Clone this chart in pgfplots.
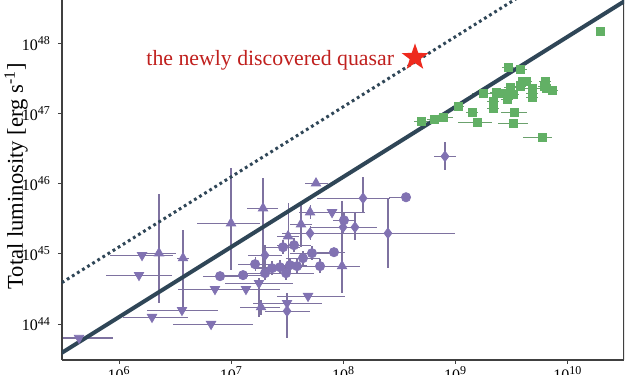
\documentclass[border=0pt]{standalone}
\usepackage{fontspec}
\setmainfont{Liberation Serif}
\usepackage{pgfplots}
\usepackage{pgfplotstable}
\pgfplotsset{compat=1.18}
\definecolor{pur}{HTML}{8172B2}
\definecolor{purbar}{HTML}{7E72A0}
\definecolor{grn}{HTML}{62B065}
\definecolor{slate}{HTML}{2F4657}
\definecolor{txtred}{HTML}{C0201E}
\definecolor{starred}{HTML}{EE2A1E}
\definecolor{axgray}{HTML}{404040}

\pgfdeclareplotmark{fstar}{%
  \pgfpathmoveto{\pgfqpointpolar{90}{\pgfplotmarksize}}%
  \pgfpathlineto{\pgfqpointpolar{126}{0.40\pgfplotmarksize}}%
  \pgfpathlineto{\pgfqpointpolar{162}{\pgfplotmarksize}}%
  \pgfpathlineto{\pgfqpointpolar{198}{0.40\pgfplotmarksize}}%
  \pgfpathlineto{\pgfqpointpolar{234}{\pgfplotmarksize}}%
  \pgfpathlineto{\pgfqpointpolar{270}{0.40\pgfplotmarksize}}%
  \pgfpathlineto{\pgfqpointpolar{306}{\pgfplotmarksize}}%
  \pgfpathlineto{\pgfqpointpolar{342}{0.40\pgfplotmarksize}}%
  \pgfpathlineto{\pgfqpointpolar{18}{\pgfplotmarksize}}%
  \pgfpathlineto{\pgfqpointpolar{54}{0.40\pgfplotmarksize}}%
  \pgfpathclose\pgfusepathqfill}

% log10(M) log10(L) and errors in decades
\pgfplotstableread{
x y xm xp ym yp
6.205 44.982 0.285 0.276 0 0
6.178 44.698 0.294 0.294 0 0
6.561 44.199 0.312 0.321 0 0
6.294 44.100 0.258 0.321 0 0
5.644 43.801 0.143 0.303 0 0
6.820 44.000 0.339 0.374 0 0
6.855 44.498 0.330 0.340 0 0
7.131 44.498 0.300 0.300 0 0
7.247 44.584 0.303 0.303 0.48 0.07
7.684 44.399 0.276 0.329 0 0
7.497 44.299 0.303 0.311 0 0
7.898 45.594 0.196 0.294 0 0
}\tdown
\pgfplotstableread{
x y xm xp ym yp
6.356 45.011 0.150 0.150 0.710 0.840
6.570 44.940 0.050 0.050 0.700 0.400
6.998 45.438 0.303 0.258 0.670 0.780
7.283 45.651 0.143 0.133 0.920 0.430
7.755 46.007 0.098 0.107 0 0
7.702 45.594 0.100 0.100 0.100 0.100
7.621 45.423 0.100 0.100 0.330 0.300
7.506 45.253 0.100 0.100 0.480 0.480
7.265 44.242 0.187 0.169 0.110 0.100
7.987 44.826 0.285 0.160 0.385 0.925
}\tup
\pgfplotstableread{
x y xm xp ym yp
6.900 44.683 0.150 0.250 0.05 0.05
7.105 44.698 0.200 0.200 0.05 0.05
7.212 44.854 0.150 0.150 0.10 0.10
7.301 44.726 0.200 0.200 0.10 0.10
7.363 44.797 0.150 0.150 0.10 0.10
7.434 44.811 0.200 0.200 0.10 0.10
7.523 44.840 0.150 0.150 0.10 0.10
7.488 44.726 0.200 0.250 0.10 0.10
7.586 44.826 0.150 0.150 0.10 0.10
7.461 45.096 0.150 0.150 0.10 0.10
7.559 45.125 0.150 0.150 0.10 0.10
7.719 45.011 0.200 0.200 0.10 0.10
7.915 45.025 0.150 0.100 0.05 0.05
7.791 44.826 0.150 0.150 0.10 0.10
8.004 45.480 0.100 0.100 0.10 0.10
8.557 45.808 0.150 0.000 0 0
7.639 44.940 0.150 0.150 0.10 0.10
}\circ
\pgfplotstableread{
x y xm xp ym yp
7.497 44.185 0.196 0.205 0.384 0.256
7.301 44.982 0.150 0.150 0.150 0.150
7.702 45.295 0.250 0.400 0.100 0.100
7.996 45.381 0.100 0.100 0.100 0.100
8.102 45.381 0.400 0.196 0.180 0.200
8.174 45.794 0.410 0.240 0.200 0.300
8.396 45.295 0.338 0.600 0.497 0.485
8.904 46.391 0.100 0.100 0.200 0.200
}\diam
\pgfplotstableread{
x y xm xp
10.285 48.171 0 0
9.465 47.658 0.050 0.050
9.572 47.630 0.060 0.060
9.590 47.459 0.050 0.050
9.626 47.459 0.050 0.050
9.572 47.388 0.050 0.050
9.795 47.459 0.050 0.050
9.786 47.388 0.050 0.050
9.804 47.359 0.050 0.050
9.857 47.331 0.050 0.050
9.679 47.359 0.080 0.080
9.679 47.288 0.050 0.050
9.679 47.231 0.050 0.050
9.483 47.374 0.050 0.050
9.465 47.274 0.050 0.050
9.510 47.274 0.050 0.050
9.457 47.203 0.050 0.050
9.359 47.302 0.050 0.050
9.394 47.288 0.050 0.050
9.421 47.288 0.100 0.100
9.243 47.288 0.100 0.100
9.332 47.174 0.050 0.050
9.332 47.075 0.050 0.050
9.020 47.103 0.050 0.050
9.145 47.018 0.050 0.050
9.519 47.018 0.116 0.116
8.690 46.890 0.060 0.060
8.806 46.918 0.060 0.060
8.886 46.947 0.115 0.090
9.189 46.875 0.169 0.134
9.510 46.861 0.134 0.134
9.768 46.662 0.169 0.089
}\green

\begin{document}
\begin{tikzpicture}
\begin{axis}[
  scale only axis,
  width=281pt, height=180pt,
  xmin=5.492, xmax=10.499,
  ymin=43.488, ymax=48.62,
  axis x line*=bottom, axis y line*=left,
  axis line style={-, axgray, line width=0.6pt},
  tick align=outside,
  major tick length=2pt,
  tick style={axgray, line width=0.5pt},
  xtick={6,7,8,9,10},
  xticklabels={10\textsuperscript{6},10\textsuperscript{7},10\textsuperscript{8},10\textsuperscript{9},10\textsuperscript{10}},
  ytick={44,45,46,47,48},
  yticklabels={10\textsuperscript{44},10\textsuperscript{45},10\textsuperscript{46},10\textsuperscript{47},10\textsuperscript{48}},
  tick label style={font=\fontsize{8}{9.5}\selectfont, text=black},
  xticklabel style={yshift=2.2pt},
  ylabel={Total luminosity [erg s\textsuperscript{-1}]},
  every axis y label/.style={at={([xshift=-23pt]rel axis cs:0,0.51)}, rotate=90, anchor=center, font=\fontsize{11.3}{13}\selectfont},
  clip=true,
  error bars/error bar style={purbar, line width=0.55pt},
  error bars/error mark=none,
]
\coordinate (bl) at (rel axis cs:0,0);
\coordinate (tr) at (rel axis cs:1,1);
\draw[axgray, line width=0.6pt] (rel axis cs:1,0) -- (rel axis cs:1,1);

\addplot[only marks, mark=triangle*, mark size=2.7pt, mark options={fill=pur, draw=pur, rotate=180},
  error bars/.cd, x dir=both, x explicit, y dir=both, y explicit]
  table[x=x, y=y, x error minus=xm, x error plus=xp, y error minus=ym, y error plus=yp]{\tdown};
\addplot[only marks, mark=triangle*, mark size=2.7pt, mark options={fill=pur, draw=pur},
  error bars/.cd, x dir=both, x explicit, y dir=both, y explicit]
  table[x=x, y=y, x error minus=xm, x error plus=xp, y error minus=ym, y error plus=yp]{\tup};
\addplot[only marks, mark=*, mark size=2.3pt, mark options={fill=pur, draw=pur},
  error bars/.cd, x dir=both, x explicit, y dir=both, y explicit]
  table[x=x, y=y, x error minus=xm, x error plus=xp, y error minus=ym, y error plus=yp]{\circ};
\addplot[only marks, mark=diamond*, mark size=2.6pt, mark options={fill=pur, draw=pur},
  error bars/.cd, x dir=both, x explicit, y dir=both, y explicit]
  table[x=x, y=y, x error minus=xm, x error plus=xp, y error minus=ym, y error plus=yp]{\diam};
\addplot[only marks, mark=square*, mark size=2.0pt, mark options={fill=grn, draw=grn},
  error bars/error bar style={grn!70!gray, line width=0.55pt},
  error bars/.cd, x dir=both, x explicit]
  table[x=x, y=y, x error minus=xm, x error plus=xp]{\green};

% Eddington limit and 10x Eddington
\addplot[slate, line width=2pt, no marks] coordinates {(5.40,43.50) (10.60,48.70)};
\addplot[slate, line width=1.5pt, no marks, dash pattern=on 1.4pt off 1.6pt] coordinates {(5.40,44.50) (10.60,49.70)};

% the newly discovered quasar
\addplot[only marks, mark=fstar, mark size=7pt, color=starred] coordinates {(8.637,47.801)};
\node[anchor=base west, inner sep=0pt, text=txtred, font=\fontsize{10.9}{12}\selectfont] at (axis cs:6.241,47.687) {the newly discovered quasar};
\end{axis}
\pgfresetboundingbox
\path ([xshift=-31pt,yshift=-7.5pt]bl) rectangle ([xshift=5pt]tr);
\end{tikzpicture}
\end{document}
